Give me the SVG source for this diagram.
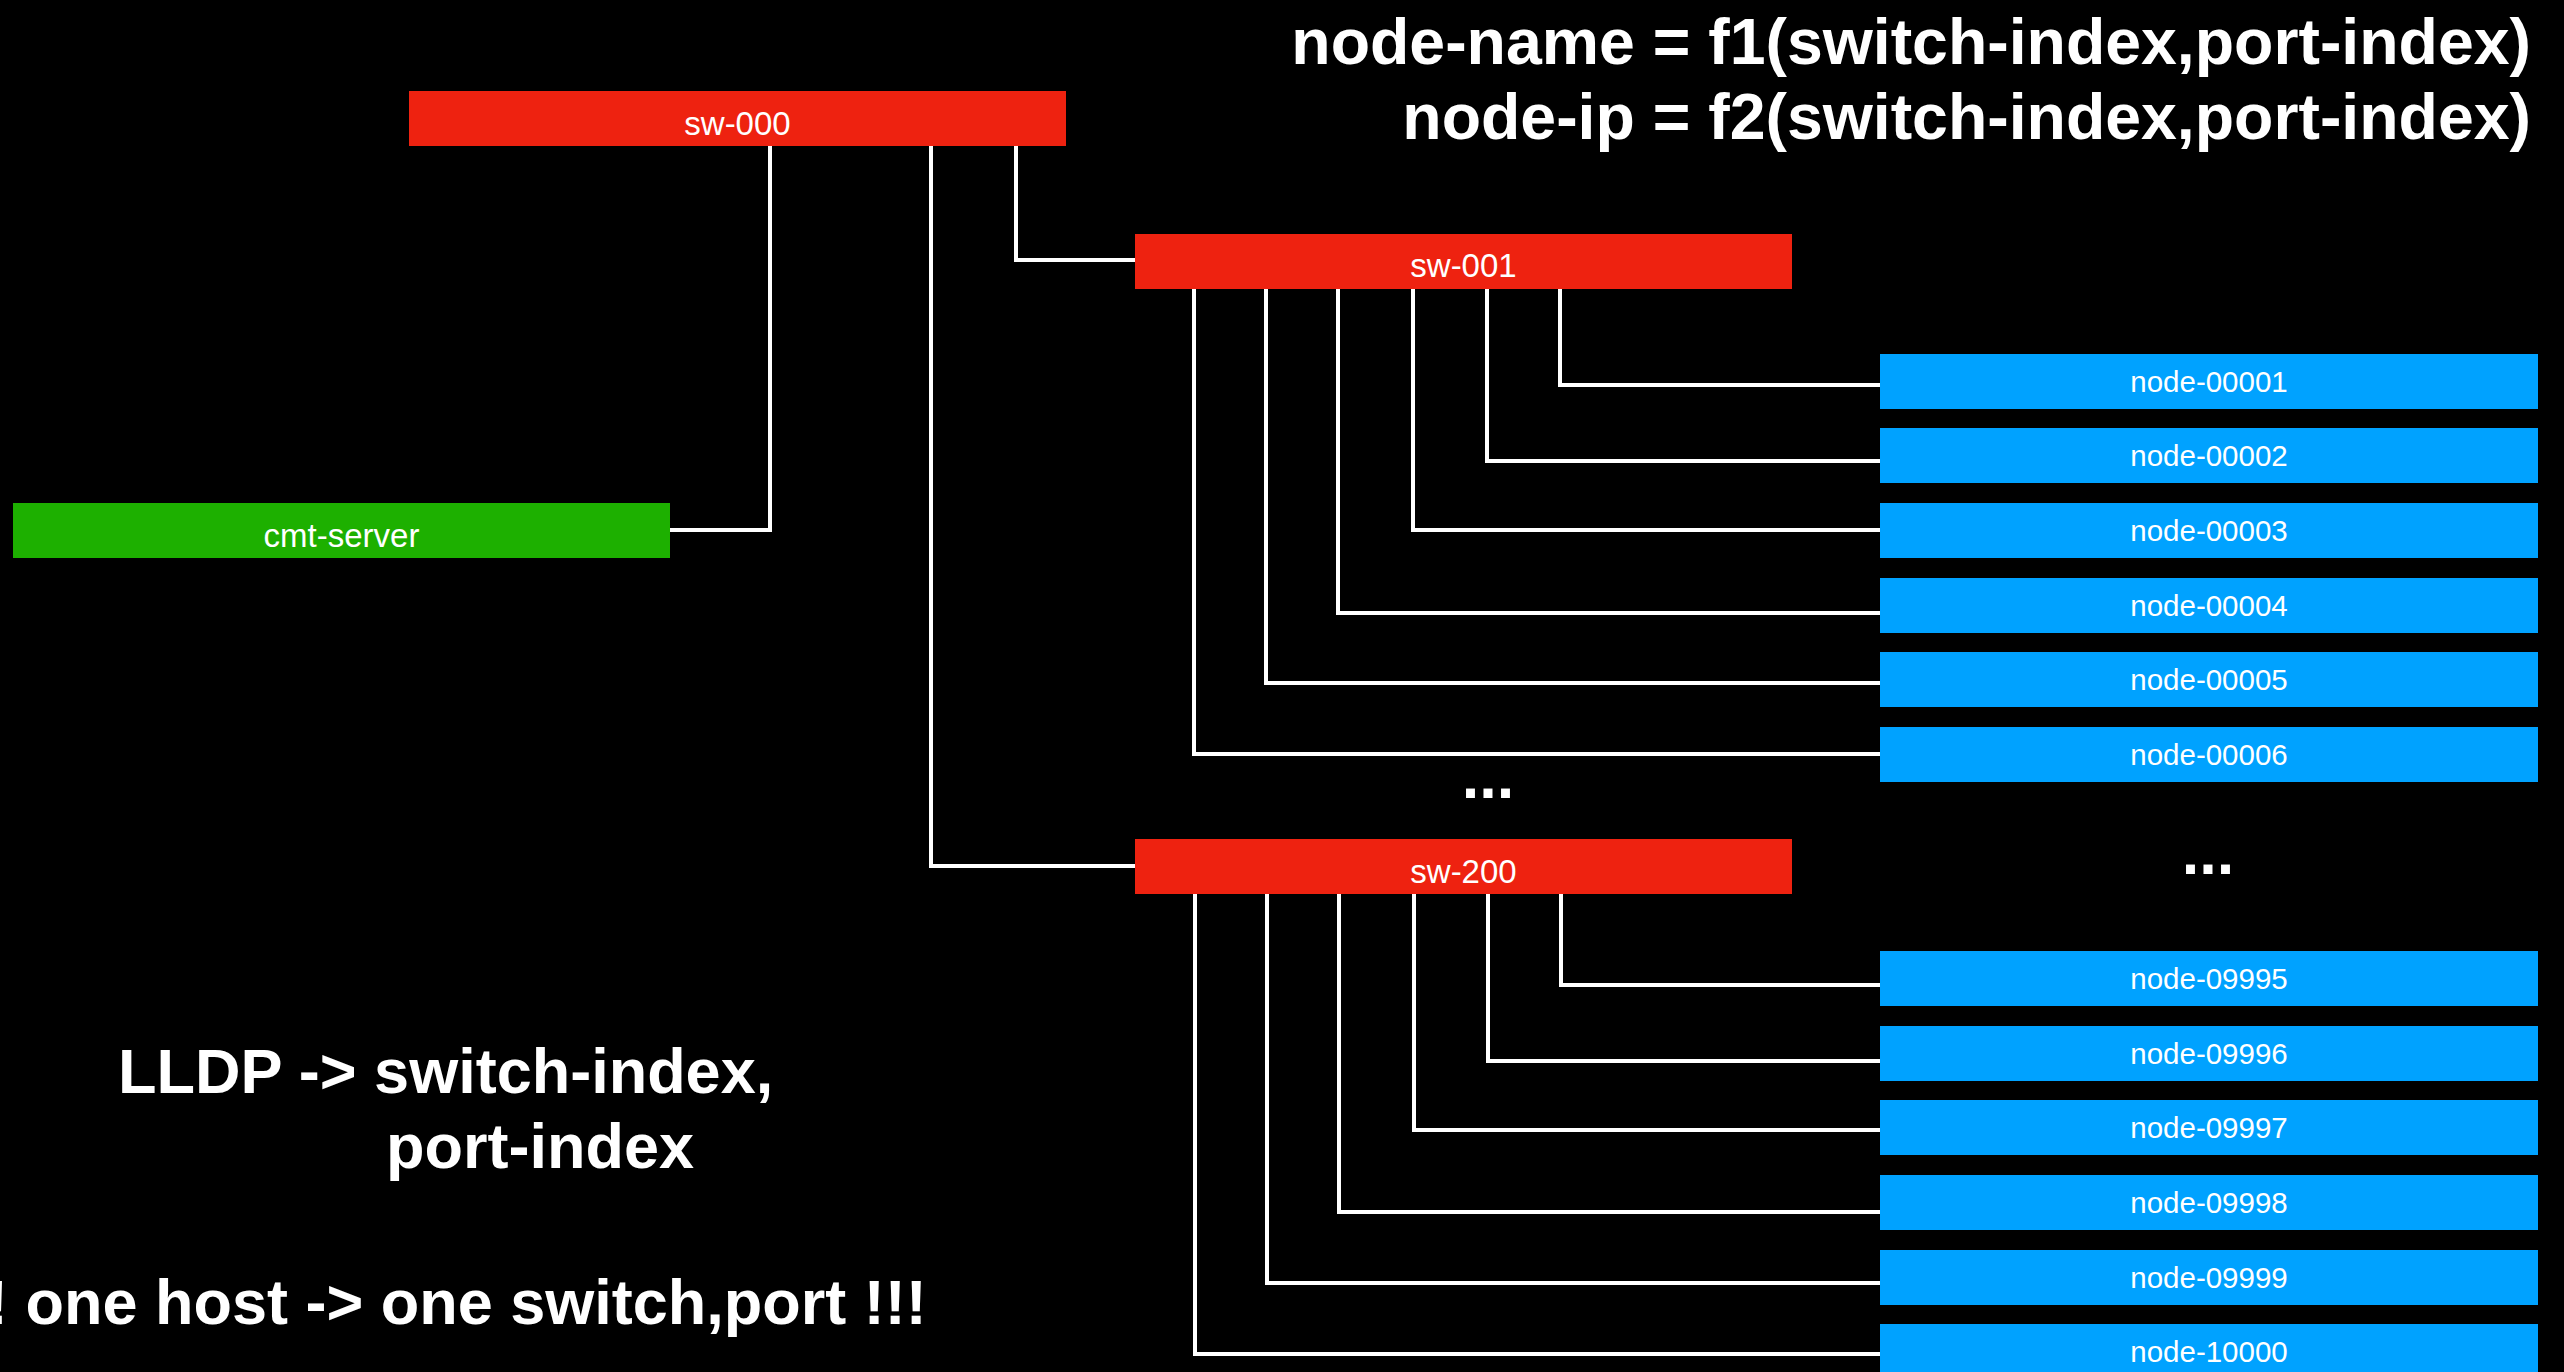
<svg xmlns="http://www.w3.org/2000/svg" width="2564" height="1372" viewBox="0 0 2564 1372">
<style>
  .sw { fill: #EE2210; }
  .srv { fill: #1DB000; }
  .nd { fill: #00A2FF; }
  .lbl { fill: #FFFFFF; font-family: "Liberation Sans", Arial, Helvetica, sans-serif; text-anchor: middle; }
  .swl { font-size: 33px; }
  .ndl { font-size: 29.5px; }
  .big { fill: #FFFFFF; font-family: "Liberation Sans", Arial, Helvetica, sans-serif; font-weight: bold; font-size: 63px; }
  .head { font-size: 64.4px; }
  .conn { fill: none; stroke: #FFFFFF; stroke-width: 4; stroke-linejoin: miter; }
</style>
<rect x="0" y="0" width="2564" height="1372" fill="#000000"/>

<g id="connectors">
  <path class="conn" d="M770,146 V530 H670"/>
  <path class="conn" d="M931,146 V866 H1135"/>
  <path class="conn" d="M1016,146 V260 H1135"/>
  <path class="conn" d="M1560,288 V385 H1880"/>
  <path class="conn" d="M1487,288 V461 H1880"/>
  <path class="conn" d="M1413,288 V530 H1880"/>
  <path class="conn" d="M1338,288 V613 H1880"/>
  <path class="conn" d="M1266,288 V683 H1880"/>
  <path class="conn" d="M1194,288 V754 H1880"/>
  <path class="conn" d="M1561,893 V985 H1880"/>
  <path class="conn" d="M1488,893 V1061 H1880"/>
  <path class="conn" d="M1414,893 V1130 H1880"/>
  <path class="conn" d="M1339,893 V1212 H1880"/>
  <path class="conn" d="M1267,893 V1283 H1880"/>
  <path class="conn" d="M1195,893 V1354 H1880"/>
</g>

<g id="sw-000">
  <rect class="sw" x="409" y="91" width="657" height="55"/>
  <text class="lbl swl" x="737.5" y="135">sw-000</text>
</g>
<g id="cmt-server">
  <rect class="srv" x="13" y="503" width="657" height="55"/>
  <text class="lbl swl" x="341.5" y="547">cmt-server</text>
</g>
<g id="sw-001">
  <rect class="sw" x="1135" y="234" width="657" height="55"/>
  <text class="lbl swl" x="1463.5" y="277">sw-001</text>
</g>
<g id="sw-200">
  <rect class="sw" x="1135" y="839" width="657" height="55"/>
  <text class="lbl swl" x="1463.5" y="883">sw-200</text>
</g>

<g id="node-00001"><rect class="nd" x="1880" y="354" width="658" height="55"/><text class="lbl ndl" x="2209" y="392">node-00001</text></g>
<g id="node-00002"><rect class="nd" x="1880" y="428" width="658" height="55"/><text class="lbl ndl" x="2209" y="466">node-00002</text></g>
<g id="node-00003"><rect class="nd" x="1880" y="503" width="658" height="55"/><text class="lbl ndl" x="2209" y="541">node-00003</text></g>
<g id="node-00004"><rect class="nd" x="1880" y="578" width="658" height="55"/><text class="lbl ndl" x="2209" y="616">node-00004</text></g>
<g id="node-00005"><rect class="nd" x="1880" y="652" width="658" height="55"/><text class="lbl ndl" x="2209" y="690">node-00005</text></g>
<g id="node-00006"><rect class="nd" x="1880" y="727" width="658" height="55"/><text class="lbl ndl" x="2209" y="765">node-00006</text></g>
<g id="node-09995"><rect class="nd" x="1880" y="951" width="658" height="55"/><text class="lbl ndl" x="2209" y="989">node-09995</text></g>
<g id="node-09996"><rect class="nd" x="1880" y="1026" width="658" height="55"/><text class="lbl ndl" x="2209" y="1064">node-09996</text></g>
<g id="node-09997"><rect class="nd" x="1880" y="1100" width="658" height="55"/><text class="lbl ndl" x="2209" y="1138">node-09997</text></g>
<g id="node-09998"><rect class="nd" x="1880" y="1175" width="658" height="55"/><text class="lbl ndl" x="2209" y="1213">node-09998</text></g>
<g id="node-09999"><rect class="nd" x="1880" y="1250" width="658" height="55"/><text class="lbl ndl" x="2209" y="1288">node-09999</text></g>
<g id="node-10000"><rect class="nd" x="1880" y="1324" width="658" height="55"/><text class="lbl ndl" x="2209" y="1362">node-10000</text></g>

<g id="annotations">
  <text class="big" x="1488" y="798" text-anchor="middle" font-size="80">...</text>
  <text class="big" x="2208" y="874" text-anchor="middle" font-size="80">...</text>
  <text class="big head" x="2531" y="64" text-anchor="end">node-name = f1(switch-index,port-index)</text>
  <text class="big head" x="2531" y="139" text-anchor="end">node-ip = f2(switch-index,port-index)</text>
  <text class="big" x="118" y="1093">LLDP -&gt; switch-index,</text>
  <text class="big" x="386" y="1168">port-index</text>
  <text class="big" x="-13" y="1324" font-size="64">! one host -&gt; one switch,port !!!</text>
</g>
</svg>
